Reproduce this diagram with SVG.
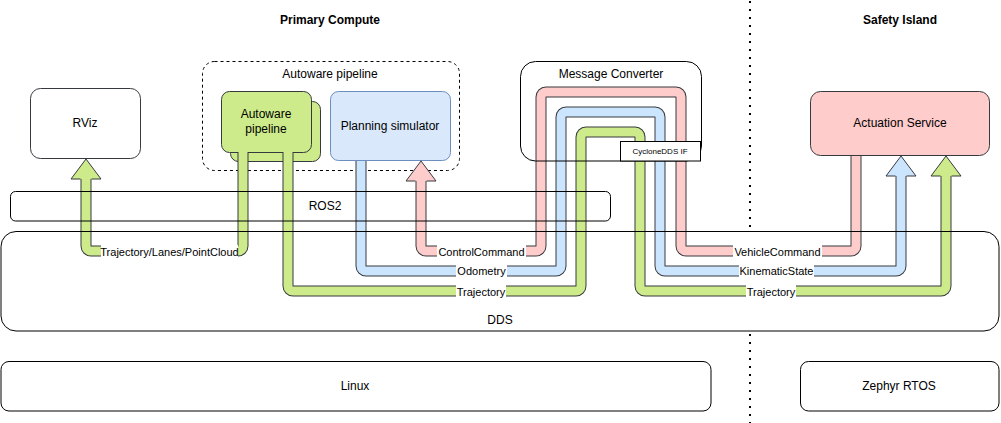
<svg xmlns="http://www.w3.org/2000/svg" width="1001" height="423" viewBox="0 0 1001 423">
<style>
text{font-family:"Liberation Sans",Arial,sans-serif;fill:#000;text-anchor:middle}
.t12{font-size:12px}
.t11{font-size:11px}
.b{font-weight:bold}
.box{fill:none;stroke:#000;stroke-width:1}
.o{fill:none;stroke:#36393d;stroke-width:11}
.fg{fill:none;stroke:#cdeb8b;stroke-width:9}
.fb{fill:none;stroke:#cce5ff;stroke-width:9}
.fp{fill:none;stroke:#ffcccc;stroke-width:9}
.hl{fill:none;stroke:#36393d;stroke-width:1}
.lbl{fill:#fff}
.dot{stroke:#000;stroke-width:2;stroke-dasharray:2 6}
</style>

<text class="t12 b" x="330" y="24">Primary Compute</text>
<text class="t12 b" x="900" y="24">Safety Island</text>

<line class="dot" x1="750" y1="1" x2="750" y2="229"/>
<line class="dot" x1="750" y1="334" x2="750" y2="423"/>

<g id="autoware-group">
<rect x="202.5" y="61.5" width="257" height="109" rx="12" fill="none" stroke="#000" stroke-dasharray="3 3"/>
<text class="t12" x="330" y="78">Autoware pipeline</text>
</g>

<g id="rviz">
<rect x="30.5" y="88.5" width="110" height="70" rx="10" fill="#fff" stroke="#36393d"/>
<text class="t12" x="85" y="127">RViz</text>
</g>

<g id="autoware-pipeline">
<rect x="230.5" y="101.5" width="90" height="60" rx="8" fill="#cdeb8b" stroke="#36393d"/>
<rect x="221.5" y="91.5" width="90" height="61" rx="8" fill="#cdeb8b" stroke="#36393d"/>
<text class="t12" x="266" y="118">Autoware</text>
<text class="t12" x="266" y="133">pipeline</text>
</g>

<g id="planning-simulator">
<rect x="330.5" y="91.5" width="120" height="69" rx="8" fill="#dae8fc" stroke="#6c8ebf"/>
<text class="t12" x="390" y="130">Planning simulator</text>
</g>

<g id="actuation-service">
<rect x="810.5" y="91.5" width="179" height="64" rx="10" fill="#ffcccc" stroke="#36393d"/>
<text class="t12" x="900" y="127">Actuation Service</text>
</g>

<g id="connectors">
<!-- Trajectory/Lanes/PointCloud to RViz -->
<path class="o" d="M243 152 V246 A5 5 0 0 1 238 251 H91 A5 5 0 0 1 86 246 V177"/>
<path class="fg" d="M243 152 V246 A5 5 0 0 1 238 251 H91 A5 5 0 0 1 86 246 V177"/>
<polygon points="71,179 86,159 101,179" fill="#cdeb8b"/>
<polyline class="hl" points="80.5,179 71,179 86,159 101,179 91.5,179"/>

<!-- Trajectory Autoware -> Actuation -->
<path class="o" d="M288 152 V286 A5 5 0 0 0 293 291 H576 A5 5 0 0 0 581 286 V137 A5 5 0 0 1 586 132 H635 A5 5 0 0 1 640 137 V286 A5 5 0 0 0 645 291 H941 A5 5 0 0 0 946 286 V174"/>
<path class="fg" d="M288 152 V286 A5 5 0 0 0 293 291 H576 A5 5 0 0 0 581 286 V137 A5 5 0 0 1 586 132 H635 A5 5 0 0 1 640 137 V286 A5 5 0 0 0 645 291 H941 A5 5 0 0 0 946 286 V174"/>
<polygon points="931,176 946,156 961,176" fill="#cdeb8b"/>
<polyline class="hl" points="940.5,176 931,176 946,156 961,176 951.5,176"/>

<!-- Odometry / KinematicState -->
<path class="o" d="M361 161 V266 A5 5 0 0 0 366 271 H556 A5 5 0 0 0 561 266 V117 A5 5 0 0 1 566 112 H655 A5 5 0 0 1 660 117 V266 A5 5 0 0 0 665 271 H896 A5 5 0 0 0 901 266 V174"/>
<path class="fb" d="M361 161 V266 A5 5 0 0 0 366 271 H556 A5 5 0 0 0 561 266 V117 A5 5 0 0 1 566 112 H655 A5 5 0 0 1 660 117 V266 A5 5 0 0 0 665 271 H896 A5 5 0 0 0 901 266 V174"/>
<polygon points="886,176 901,156 916,176" fill="#cce5ff"/>
<polyline class="hl" points="895.5,176 886,176 901,156 916,176 906.5,176"/>

<!-- VehicleCommand / ControlCommand -->
<path class="o" d="M856 156 V246 A5 5 0 0 1 851 251 H686 A5 5 0 0 1 681 246 V97 A5 5 0 0 0 676 92 H546 A5 5 0 0 0 541 97 V246 A5 5 0 0 1 536 251 H426 A5 5 0 0 1 421 246 V179"/>
<path class="fp" d="M856 156 V246 A5 5 0 0 1 851 251 H686 A5 5 0 0 1 681 246 V97 A5 5 0 0 0 676 92 H546 A5 5 0 0 0 541 97 V246 A5 5 0 0 1 536 251 H426 A5 5 0 0 1 421 246 V179"/>
<polygon points="406,181 421,161 436,181" fill="#ffcccc"/>
<polyline class="hl" points="415.5,181 406,181 421,161 436,181 426.5,181"/>

<!-- labels -->
<rect class="lbl" x="101" y="245" width="137" height="13"/>
<text class="t11" x="169.5" y="255.5">Trajectory/Lanes/PointCloud</text>
<rect class="lbl" x="437" y="245" width="89" height="13"/>
<text class="t11" x="481.5" y="255.5">ControlCommand</text>
<rect class="lbl" x="456" y="265" width="51" height="13"/>
<text class="t11" x="481.5" y="275">Odometry</text>
<rect class="lbl" x="456" y="285" width="50" height="13"/>
<text class="t11" x="481" y="295.5">Trajectory</text>
<rect class="lbl" x="733" y="245" width="89" height="13"/>
<text class="t11" x="777.5" y="255.5">VehicleCommand</text>
<rect class="lbl" x="739" y="265" width="75" height="13"/>
<text class="t11" x="776.5" y="275">KinematicState</text>
<rect class="lbl" x="746" y="285" width="50" height="13"/>
<text class="t11" x="771" y="295.5">Trajectory</text>
</g>

<g id="ros2">
<rect class="box" x="10.5" y="191.5" width="600" height="29.5" rx="5"/>
<text class="t12" x="325" y="210">ROS2</text>
</g>

<g id="dds">
<rect class="box" x="1" y="231.5" width="998" height="99.5" rx="15"/>
<text class="t12" x="500" y="324">DDS</text>
</g>

<g id="message-converter">
<rect class="box" x="520.5" y="61.5" width="181" height="99.5" rx="15"/>
<text class="t12" x="611" y="78">Message Converter</text>
</g>

<g id="cyclonedds-if">
<rect x="620.5" y="141.5" width="80" height="19.5" fill="#fff" stroke="#000"/>
<text x="660" y="154" style="font-size:8px">CycloneDDS IF</text>
</g>

<g id="linux">
<rect class="box" x="1" y="361.5" width="710" height="49.5" rx="8"/>
<text class="t12" x="355" y="390">Linux</text>
</g>

<g id="zephyr">
<rect class="box" x="800.5" y="361.5" width="198.5" height="49.5" rx="8"/>
<text class="t12" x="899" y="390">Zephyr RTOS</text>
</g>
</svg>
